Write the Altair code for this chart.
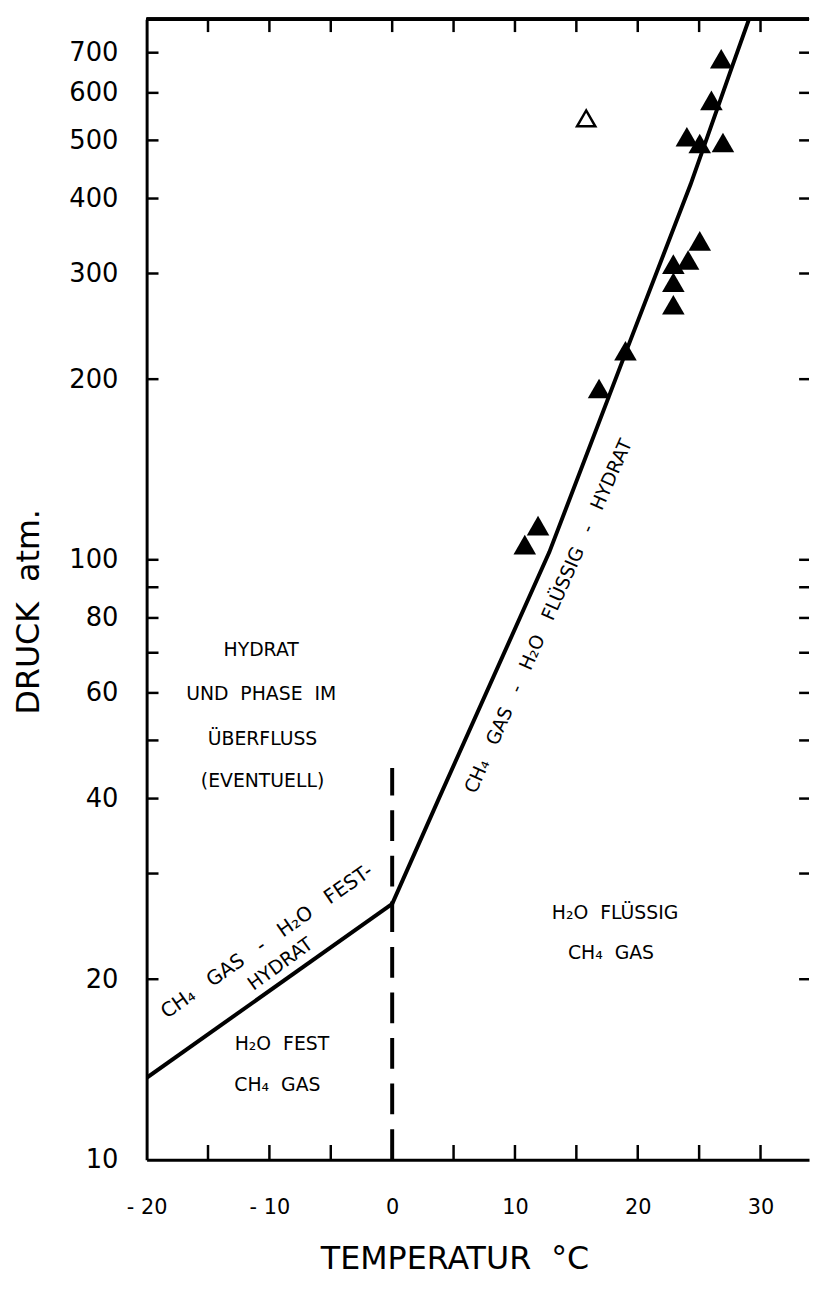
import altair as alt
import pandas as pd

# ---- data ----
lower_T = [-20, 0]
lower_P = [13.7, 26.7]
upper_T = [0, 3.8, 12.8, 19.0, 24.3, 27.7, 29.1]
upper_P = [26.7, 40, 103, 221, 422, 665, 800]

dash_T = [0]
dash_P_low = [10]
dash_P_high = [45]

tri_T = [26.8, 26.0, 24.0, 25.05, 26.94, 25.05, 24.1, 22.9, 22.9, 22.9, 19.0, 16.85, 11.88, 10.8]
tri_P = [684, 583, 507, 494, 496, 340, 316, 311, 290, 266, 223, 193, 114, 106]
open_T = [15.8]
open_P = [544]

x_label_values = [-20, -10, 0, 10, 20, 30]
x_tick_values = [-15, -10, -5, 0, 5, 10, 15, 20, 25, 30]
y_label_values = [10, 20, 40, 60, 80, 100, 200, 300, 400, 500, 600, 700]
y_tick_values = [20, 30, 40, 50, 60, 70, 80, 90, 100, 200, 300, 400, 500, 600, 700]

S = "\u00a0\u00a0"      # wide word gap (non-collapsing)
S3 = "\u00a0\u00a0\u00a0"
note_text = ["HYDRAT", f"UND{S}PHASE{S}IM", "ÜBERFLUSS", "(EVENTUELL)",
             f"H₂O{S}FEST", f"CH₄{S}GAS", f"H₂O{S}FLÜSSIG", f"CH₄{S}GAS",
             f"CH₄{S3}GAS{S3}-{S3}H₂O{S3}FEST-", "HYDRAT",
             f"CH₄{S3}GAS{S3}-{S3}H₂O{S3}FLÜSSIG{S3}-{S3}HYDRAT"]
note_T = [-10.67, -10.67, -10.56, -10.56, -8.98, -9.35, 18.15, 17.82, -10.2, -9.1, 12.74]
note_P = [70.8, 59.7, 50.3, 42.7, 15.6, 13.3, 25.8, 22.1, 23.1, 21.2, 80.5]
note_angle = [0, 0, 0, 0, 0, 0, 0, 0, 325, 324, 294]
note_size = [19, 19, 19, 19, 19, 19, 19, 19, 20, 19, 19]

# ---- layout ----
W, H = 669, 1152
FONT = "DejaVu Sans"
X_MIN, X_MAX = -20, 33.95
xscale = alt.Scale(domain=[X_MIN, X_MAX], nice=False, zero=False)
yscale = alt.Scale(type="log", domain=[10, 796], nice=False)
DEG_PER_PX = (X_MAX - X_MIN) / W

curve_df = pd.DataFrame({
    "T": lower_T + upper_T,
    "P": lower_P + upper_P,
    "seg": ["lower"] * len(lower_T) + ["upper"] * len(upper_T),
    "i": list(range(len(lower_T))) + list(range(len(upper_T))),
})
dash_df = pd.DataFrame({"T": dash_T, "P": dash_P_low, "P2": dash_P_high})
tri_df = pd.DataFrame({"T": tri_T, "P": tri_P})
open_df = pd.DataFrame({"T": open_T, "P": open_P})
note_df = pd.DataFrame({"T": note_T, "P": note_P, "txt": note_text, "a": note_angle, "s": note_size})
ytick_df = pd.DataFrame({"P": y_tick_values})
xtick_df = pd.DataFrame({"T": x_tick_values})

x_axis = alt.Axis(
    values=x_label_values,
    labelExpr="datum.value < 0 ? '- ' + (-datum.value) : '' + datum.value",
    ticks=False, tickSize=0, grid=False,
    domainColor="black", domainWidth=3,
    labelFont=FONT, labelFontSize=21, labelColor="black", labelPadding=37,
    labelFlush=False, labelOverlap=False,
    title="TEMPERATUR\u00a0\u00a0°C", titleFont=FONT, titleFontSize=32, titleFontWeight="normal",
    titleColor="black", titleX=311, titleY=110, titleAlign="center", titleBaseline="alphabetic",
)
y_axis = alt.Axis(
    values=y_label_values, format="d",
    ticks=False, tickSize=0, grid=False,
    domainColor="black", domainWidth=3,
    labelFont=FONT, labelFontSize=26, labelColor="black", labelPadding=29,
    labelFlush=False, labelOverlap=False, labelBaseline="middle",
    title="DRUCK\u00a0\u00a0atm.", titleFont=FONT, titleFontSize=32, titleFontWeight="normal",
    titleColor="black", titleAngle=270, titleX=-119, titleY=598,
    titleAlign="center", titleBaseline="middle",
)


def ex(field="T"):
    return alt.X(f"{field}:Q", scale=xscale, axis=x_axis, title="TEMPERATUR\u00a0\u00a0°C")


def ey(field="P"):
    return alt.Y(f"{field}:Q", scale=yscale, axis=y_axis, title="DRUCK\u00a0\u00a0atm.")


curves = alt.Chart(curve_df).mark_line(color="black", strokeWidth=4, clip=True).encode(
    x=ex(), y=ey(), detail="seg:N", order="i:Q",
)

dashed = alt.Chart(dash_df).mark_rule(color="black", strokeWidth=4, strokeDash=[31, 15]).encode(
    x=ex(), y=ey(), y2="P2:Q",
)

tri_filled = alt.Chart(tri_df).mark_point(
    shape="triangle-up", filled=True, color="black", size=520, opacity=1
).encode(x=ex(), y=ey())

tri_open = alt.Chart(open_df).mark_point(
    shape="triangle-up", filled=False, color="black", size=340, strokeWidth=2.5, opacity=1
).encode(x=ex(), y=ey())

notes = alt.Chart(note_df).mark_text(
    font=FONT, color="black", align="center", baseline="middle"
).encode(
    x=ex(), y=ey(),
    text="txt:N",
    angle=alt.Angle("a:Q", scale=None),
    size=alt.Size("s:Q", scale=None),
)

# inward ticks on the left (12 px) and right (10 px) edges, placed through the scales
left_ticks = alt.Chart(ytick_df).transform_calculate(
    Tc=f"{X_MIN} + 6 * {DEG_PER_PX}"
).mark_point(shape="stroke", size=144, strokeWidth=2.5, color="black", opacity=1).encode(
    y=ey(), x=ex("Tc")
)
right_ticks = alt.Chart(ytick_df).transform_calculate(
    Tc=f"{X_MAX} - 5 * {DEG_PER_PX}"
).mark_point(shape="stroke", size=100, strokeWidth=2.5, color="black", opacity=1).encode(
    y=ey(), x=ex("Tc")
)
bottom_ticks = alt.Chart(xtick_df).mark_rule(color="black", strokeWidth=2.5).encode(
    x=ex(), y=alt.value(H), y2=alt.value(H - 15)
)
top_ticks = alt.Chart(xtick_df).mark_rule(color="black", strokeWidth=2.5).encode(
    x=ex(), y=alt.value(0), y2=alt.value(13)
)
top_line = alt.Chart(xtick_df).mark_rule(color="black", strokeWidth=3).encode(
    x=alt.value(0), x2=alt.value(W), y=alt.value(0)
)

chart = alt.layer(
    curves, dashed, tri_filled, tri_open, notes,
    left_ticks, right_ticks, bottom_ticks, top_ticks, top_line,
).properties(
    width=W, height=H,
    autosize=alt.AutoSizeParams(type="none"),
    padding={"left": 140, "top": 5, "right": 2, "bottom": 111},
    background="white",
).configure_view(stroke=None)

chart.save("out.html", embed_options={"renderer": "svg", "actions": False})
